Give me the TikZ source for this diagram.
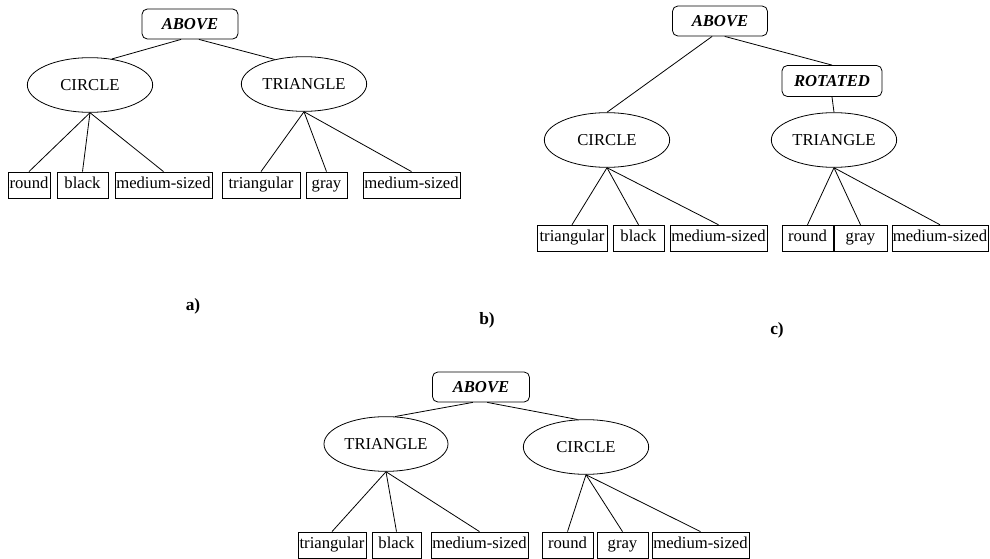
\documentclass[tikz,border=0pt]{standalone}
\usepackage{fontspec}
\setmainfont{Liberation Serif}
\usetikzlibrary{shapes.geometric}
\begin{document}
\begin{tikzpicture}[x=0.75pt,y=-0.75pt,line width=0.6pt,
  every node/.style={font=\fontsize{12.5}{14}\selectfont,inner sep=0pt},
  relbox/.style={draw,rounded corners=4pt,minimum height=22.5pt,font=\fontsize{12.5}{14}\selectfont\bfseries\itshape},
  objnode/.style={draw,ellipse,minimum width=94pt,minimum height=41pt},
  leaf/.style={draw,minimum height=19.5pt,text height=7pt,text depth=2.4pt},
  caption/.style={font=\fontsize{13}{15}\selectfont\bfseries}]
  \useasboundingbox (0,0) rectangle (990,559);
  \begin{scope}
    \node [relbox,minimum width=72pt] (a-above) at (190,24) {ABOVE};
    \node [objnode] (a-circle) at (90,85) {CIRCLE};
    \node [objnode] (a-tri) at (304,84) {TRIANGLE};
    \node [leaf,minimum width=31.5pt] (a-round) at (29,185) {round};
    \node [leaf,minimum width=38.25pt] (a-black) at (82.5,185) {black};
    \node [leaf,minimum width=72.75pt] (a-med1) at (163.5,185) {medium-sized};
    \node [leaf,minimum width=58.5pt] (a-triang) at (261,185) {triangular};
    \node [leaf,minimum width=30.75pt] (a-gray) at (326.5,185) {gray};
    \node [leaf,minimum width=72.75pt] (a-med2) at (411.5,185) {medium-sized};
    \draw (a-above.-120) -- (a-circle.50);
    \draw (a-above.-60) -- (a-tri.140);
    \draw (a-circle.south) -- (a-round.north);
    \draw (a-circle.south) -- (a-black.north);
    \draw (a-circle.south) -- (a-med1.north);
    \draw (a-tri.south) -- (a-triang.north);
    \draw (a-tri.south) -- (a-gray.north);
    \draw (a-tri.south) -- (a-med2.north);
  \end{scope}
  \begin{scope}
    \node [relbox,minimum width=71.25pt] (c-above) at (720,21) {ABOVE};
    \node [relbox,minimum width=75pt,minimum height=23.25pt] (c-rot) at (832,81) {ROTATED};
    \node [objnode] (c-circle) at (607,140) {CIRCLE};
    \node [objnode] (c-tri) at (834,140) {TRIANGLE};
    \node [leaf,minimum width=52.5pt,minimum height=20pt] (c-triang) at (572,238.5) {triangular};
    \node [leaf,minimum width=38.25pt,minimum height=20pt] (c-black) at (638.5,238.5) {black};
    \node [leaf,minimum width=72.75pt,minimum height=20pt] (c-med1) at (718.5,238.5) {medium-sized};
    \node [leaf,minimum width=38.25pt,minimum height=20pt] (c-round) at (807.5,238.5) {round};
    \node [leaf,minimum width=39.75pt,minimum height=20pt] (c-gray) at (860.5,238.5) {gray};
    \node [leaf,minimum width=72pt,minimum height=20pt] (c-med2) at (940,238.5) {medium-sized};
    \draw (c-above.-117) -- (c-circle.north);
    \draw (c-above.-73) -- (c-rot.north);
    \draw (c-rot.south) -- (c-tri.north);
    \draw (c-circle.south) -- (c-triang.north);
    \draw (c-circle.south) -- (c-black.north);
    \draw (c-circle.south) -- (c-med1.north);
    \draw (c-tri.south) -- (c-round.north);
    \draw (c-tri.south) -- (c-gray.north);
    \draw (c-tri.south) -- (c-med2.north);
  \end{scope}
  \begin{scope}[every node/.append style={caption}]
    \node (cap-a) at (193,306) {a)};
    \node (cap-b) at (487,320) {b)};
    \node (cap-c) at (777,330) {c)};
  \end{scope}
  \begin{scope}
    \node [relbox,minimum width=72.75pt] (d-above) at (481,387) {ABOVE};
    \node [objnode,minimum width=93pt] (d-tri) at (386,444) {TRIANGLE};
    \node [objnode] (d-circle) at (586,447) {CIRCLE};
    \node [leaf,minimum width=51pt] (d-triang) at (332,545) {triangular};
    \node [leaf,minimum width=36.75pt] (d-black) at (396.5,545) {black};
    \node [leaf,minimum width=72.75pt] (d-med1) at (479.5,545) {medium-sized};
    \node [leaf,minimum width=38.25pt] (d-round) at (567.5,545) {round};
    \node [leaf,minimum width=38.25pt] (d-gray) at (622.5,545) {gray};
    \node [leaf,minimum width=72.75pt] (d-med2) at (700.5,545) {medium-sized};
    \draw (d-above.-118) -- (d-tri.72);
    \draw (d-above.-68) -- (d-circle.107);
    \draw (d-tri.south) -- (d-triang.north);
    \draw (d-tri.south) -- (d-black.north);
    \draw (d-tri.south) -- (d-med1.north);
    \draw (d-circle.south) -- (d-round.north);
    \draw (d-circle.south) -- (d-gray.north);
    \draw (d-circle.south) -- (d-med2.north);
  \end{scope}
\end{tikzpicture}
\end{document}
